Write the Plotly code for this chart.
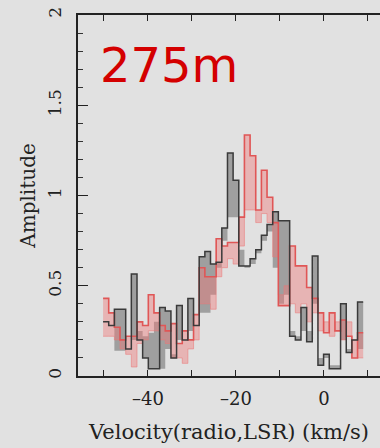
import plotly.graph_objects as go

# channel edges (km/s)
velocity_edges = [-50.20, -48.92, -47.63, -46.35, -45.06, -43.78, -42.49, -41.21, -39.92,
                  -38.64, -37.35, -36.07, -34.78, -33.50, -32.21, -30.93, -29.64, -28.36,
                  -27.07, -25.79, -24.50, -23.22, -21.93, -20.65, -19.36, -18.08, -16.79,
                  -15.51, -14.22, -12.94, -11.65, -10.37, -9.08, -7.80, -6.51, -5.23,
                  -3.94, -2.66, -1.37, -0.09, 1.20, 2.49, 3.77, 5.06, 6.34, 7.63, 8.91]

black_amp = [0.30, 0.28, 0.37, 0.37, 0.15, 0.565, 0.20, 0.10, 0.04, 0.04,
             0.38, 0.36, 0.10, 0.39, 0.20, 0.43, 0.28, 0.66, 0.69, 0.62,
             0.63, 0.82, 1.235, 1.085, 0.61, 0.61, 0.65, 0.70, 0.78, 0.84,
             0.91, 0.86, 0.86, 0.22, 0.20, 0.38, 0.19, 0.665, 0.06, 0.12,
             0.04, 0.04, 0.40, 0.13, 0.20, 0.41]
black_alt = [0.30, 0.28, 0.14, 0.14, 0.15, 0.20, 0.25, 0.22, 0.24, 0.30,
             0.04, 0.15, 0.12, 0.20, 0.20, 0.25, 0.28, 0.35, 0.35, 0.45,
             0.60, 0.75, 0.88, 0.88, 0.70, 0.60, 0.62, 0.68, 0.75, 0.80,
             0.60, 0.40, 0.45, 0.25, 0.22, 0.25, 0.25, 0.40, 0.10, 0.10,
             0.06, 0.06, 0.20, 0.15, 0.20, 0.15]
red_amp = [0.43, 0.35, 0.27, 0.20, 0.22, 0.22, 0.30, 0.28, 0.45, 0.35,
           0.28, 0.25, 0.29, 0.18, 0.25, 0.20, 0.34, 0.60, 0.55, 0.55,
           0.76, 0.72, 0.74, 0.74, 0.88, 1.335, 1.22, 0.92, 1.14, 0.99,
           0.85, 0.39, 0.39, 0.72, 0.61, 0.61, 0.49, 0.43, 0.35, 0.24,
           0.35, 0.25, 0.31, 0.22, 0.10, 0.24]
red_alt = [0.22, 0.22, 0.20, 0.15, 0.12, 0.05, 0.18, 0.20, 0.25, 0.25,
           0.20, 0.18, 0.10, 0.10, 0.07, 0.15, 0.20, 0.40, 0.40, 0.37,
           0.55, 0.60, 0.65, 0.62, 0.72, 0.92, 0.92, 0.85, 0.90, 0.85,
           0.66, 0.45, 0.50, 0.40, 0.35, 0.40, 0.30, 0.35, 0.25, 0.30,
           0.22, 0.30, 0.20, 0.30, 0.20, 0.10]

x_ticks = [-50, -40, -30, -20, -10, 0, 10]
x_ticktext = ["", "\u201340", "", "\u201320", "", "0", ""]
y_ticks = [0, 0.5, 1, 1.5, 2]
y_ticktext = ["0", "0.5", "1", "1.5", "2"]


def step(vals):
    return list(vals) + [vals[-1]]


BG = "#e1e1e1"
fig = go.Figure()

# bands
fig.add_trace(go.Scatter(x=velocity_edges, y=step(black_alt), mode="lines",
                         line=dict(shape="hv", width=0), hoverinfo="skip"))
fig.add_trace(go.Scatter(x=velocity_edges, y=step(black_amp), mode="lines",
                         line=dict(shape="hv", width=0), fill="tonexty",
                         fillcolor="rgba(70,70,70,0.42)", hoverinfo="skip"))
fig.add_trace(go.Scatter(x=velocity_edges, y=step(red_alt), mode="lines",
                         line=dict(shape="hv", width=0), hoverinfo="skip"))
fig.add_trace(go.Scatter(x=velocity_edges, y=step(red_amp), mode="lines",
                         line=dict(shape="hv", width=0), fill="tonexty",
                         fillcolor="rgba(240,120,120,0.42)", hoverinfo="skip"))
# outlines
fig.add_trace(go.Scatter(x=velocity_edges, y=step(red_alt), mode="lines",
                         line=dict(shape="hv", width=1, color="rgba(235,120,120,0.55)")))
fig.add_trace(go.Scatter(x=velocity_edges, y=step(red_amp), mode="lines",
                         line=dict(shape="hv", width=1.6, color="#e05656")))
fig.add_trace(go.Scatter(x=velocity_edges, y=step(black_amp), mode="lines",
                         line=dict(shape="hv", width=1.5, color="#3a3a3a")))

serif = "DejaVu Serif"
fig.update_layout(
    width=380, height=448,
    margin=dict(l=78, r=0, t=15, b=72),
    paper_bgcolor=BG, plot_bgcolor=BG,
    showlegend=False,
    font=dict(family=serif, size=16, color="#222"),
)
fig.update_xaxes(
    range=[-55.9, 12.73], showgrid=False, zeroline=False,
    showline=True, linecolor="#222", linewidth=1.5, mirror="ticks",
    ticks="inside", ticklen=6, tickwidth=1.3, tickcolor="#222",
    tickvals=x_ticks, ticktext=x_ticktext, ticklabelstandoff=6,
    tickfont=dict(family=serif, size=18, color="#222"),
    title=dict(text="Velocity(radio,LSR) (km/s)", standoff=16,
               font=dict(family=serif, size=21, color="#222")),
)
fig.update_yaxes(
    range=[0, 2], showgrid=False, zeroline=False,
    showline=True, linecolor="#222", linewidth=1.5, mirror=False,
    ticks="inside", ticklen=10, tickwidth=1.3, tickcolor="#222",
    tickvals=y_ticks, ticktext=y_ticktext, tickangle=-90, ticklabelstandoff=8,
    tickfont=dict(family=serif, size=17, color="#222"),
    minor=dict(ticks="inside", ticklen=5, dtick=0.1, tickwidth=1, tickcolor="#333"),
    title=dict(text="Amplitude", standoff=4,
               font=dict(family=serif, size=20, color="#222")),
)
fig.add_annotation(text="275m", xref="paper", yref="paper", x=0.066, y=0.861,
                   xanchor="left", yanchor="middle", showarrow=False,
                   font=dict(family="DejaVu Sans", size=48, color="#d40000"))

fig.write_html("out.html")
